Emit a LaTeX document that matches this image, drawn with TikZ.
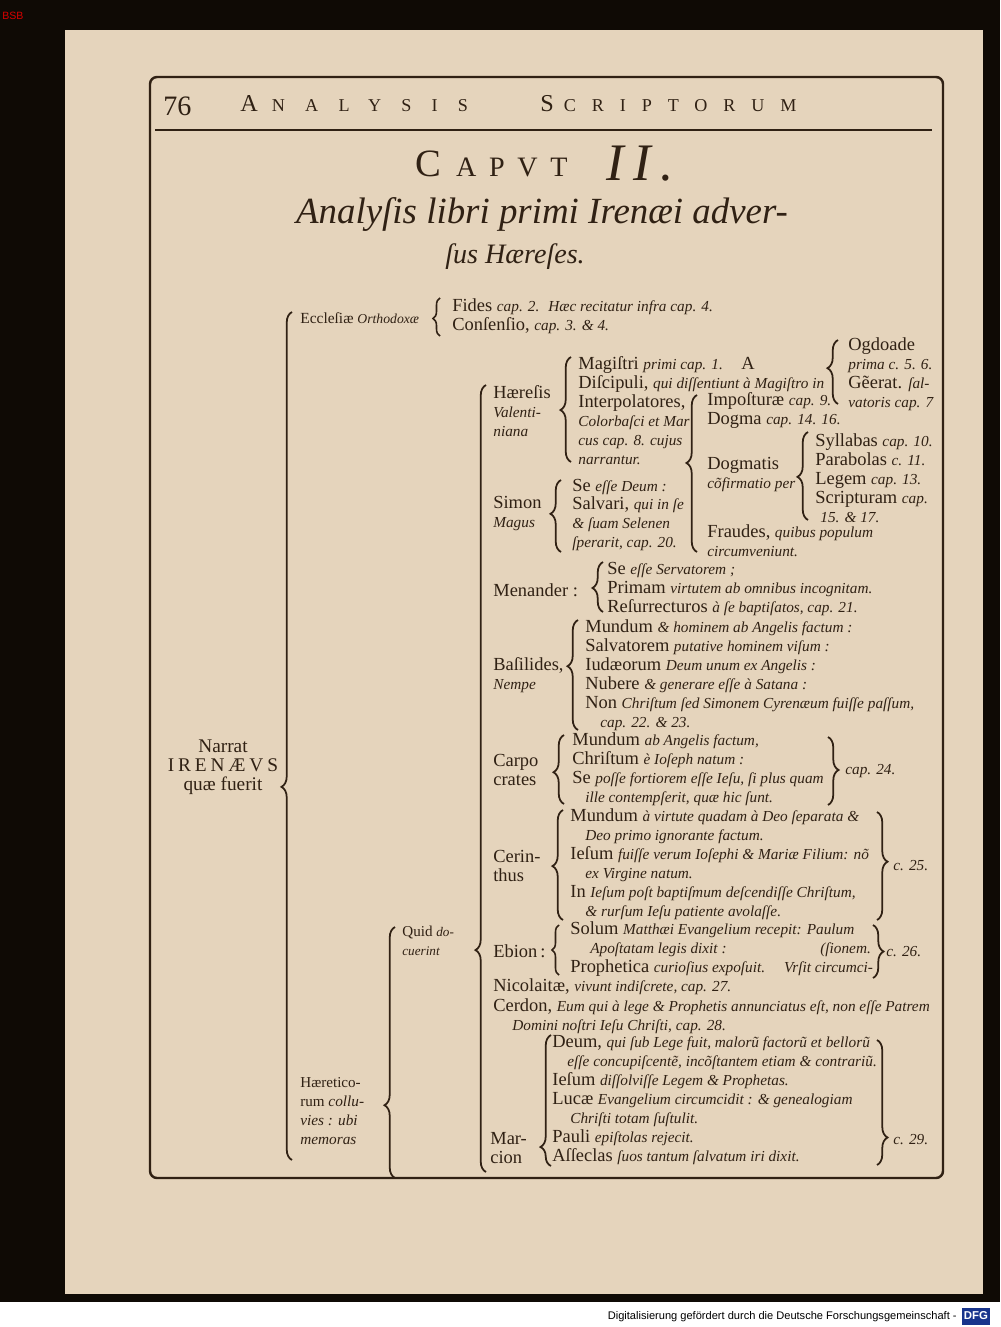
\documentclass[tikz,border=0pt]{standalone}
\usepackage{fontspec}
\setmainfont{Liberation Serif}
\newfontfamily\footfont{Liberation Sans}
\usepackage{tikz}
\usetikzlibrary{decorations.pathreplacing}
\definecolor{ink}{RGB}{48,33,20}
\definecolor{paper}{RGB}{229,212,188}
\definecolor{dfgblue}{RGB}{24,52,140}
\newcommand{\ital}[1]{{\itshape\fontsize{8.7}{10.8}\selectfont #1}}

\begin{document}
\begin{tikzpicture}[x=0.02cm,y=-0.02cm,
    txt/.style={anchor=west, inner sep=0pt, align=left, text=ink, font=\fontsize{10.5}{10.8}\selectfont},
    sml/.style={txt, font=\fontsize{8.6}{10.8}\selectfont},
    brc/.style={draw=ink, line width=1pt, decorate, decoration={brace, amplitude=6pt, aspect=#1}},
    sbrc/.style={draw=ink, line width=0.9pt, decorate, decoration={brace, amplitude=4pt, aspect=#1}}]
\useasboundingbox (0,0) rectangle (1000,1327);
% scan background
\fill[black!92!brown] (0,0) rectangle (1000,1302);
\fill[white] (0,1302) rectangle (1000,1327);
\fill[paper] (65,30) rectangle (983,1294);
\draw (2,16) node[anchor=west, inner sep=0pt, text=red!85!black, font=\footfont\fontsize{6}{7}\selectfont] (bsb) {BSB};
\draw (957,1317) node[anchor=east, inner sep=0pt, font=\footfont\fontsize{6.3}{7}\selectfont] (foot) {Digitalisierung gefördert durch die Deutsche Forschungsgemeinschaft -};
\draw (976,1316) node[fill=dfgblue, text=white, inner sep=0pt, minimum width=0.56cm, minimum height=0.34cm, font=\footfont\bfseries\fontsize{6.5}{7}\selectfont] (dfg) {DFG};

% page frame and running head
\draw[ink, line width=1.4pt, rounded corners=4pt] (150,77) rectangle (943,1178);
\draw[ink, line width=1.1pt] (155,130) -- (932,130);
\draw (163,106) node[txt, font=\fontsize{16}{16}\selectfont] (pnum) {76};
\draw (240,104) node[txt, font=\fontsize{13.8}{14}\selectfont] (runa) {A\hspace{0.28cm}{\fontsize{10.3}{14}\selectfont\addfontfeature{LetterSpace=112}NALYSIS}};
\draw (540,104) node[txt, font=\fontsize{13.8}{14}\selectfont] (runs) {S\hspace{0.2cm}{\fontsize{10.3}{14}\selectfont\addfontfeature{LetterSpace=88}CRIPTORUM}};

% title
\draw (415,164) node[txt, font=\fontsize{22}{22}\selectfont] (caput) {C\hspace{0.3cm}{\fontsize{16}{22}\selectfont\addfontfeature{LetterSpace=45}APVT}};
\draw (606,164) node[txt, font=\itshape\fontsize{30}{30}\selectfont] (caputn) {{\addfontfeature{LetterSpace=18}II.}};
\draw (542,214) node[text=ink, inner sep=0pt, font=\itshape\fontsize{21}{21}\selectfont] (tita) {Analyſis libri primi Irenæi adver-};
\draw (515,257) node[text=ink, inner sep=0pt, font=\itshape\fontsize{16}{16}\selectfont] (titb) {ſus Hæreſes.};

% first level
\draw (223,767) node[txt, anchor=center, align=center, font=\fontsize{11}{10.8}\selectfont] (narrat) {Narrat\\{\addfontfeature{LetterSpace=20}IRENÆVS}\\quæ fuerit};
\draw (300,318) node[txt, font=\fontsize{8.8}{10.8}\selectfont] (eccl) {Eccleſiæ \ital{\fontsize{7.8}{10.8}\selectfont Orthodoxæ}};
\draw (452,316) node[txt] (eccks) {Fides \ital{cap. 2. \ Hæc recitatur infra cap. 4.}\\Conſenſio, \ital{cap. 3. \& 4.}};
\draw (300,1111) node[sml] (haeret) {Hæretico-\\rum \ital{collu-}\\\ital{vies : ubi}\\\ital{memoras}};
\draw (402,941) node[sml] (quid) {Quid \ital{\fontsize{7.5}{10.8}\selectfont do-}\\\ital{\fontsize{7.5}{10.8}\selectfont cuerint}};

% Valentiniani
\draw (493,411) node[txt] (valent) {Hæreſis\\\ital{Valenti-}\\\ital{niana}};
\draw (578,411) node[txt] (valks) {Magiſtri \ital{primi cap. 1.}\quad A\\Diſcipuli, \ital{qui diſſentiunt à Magiſtro in}\\Interpolatores,\\\ital{Colorbaſci et Mar}\\\ital{cus cap. 8. cujus}\\\ital{narrantur.}};
\draw (848,374) node[txt] (ogdo) {Ogdoade\\\ital{prima c. 5. 6.}\\Gẽerat. \ital{ſal-}\\\ital{vatoris cap. 7}};
\draw (707,401) node[txt] (impost) {Impoſturæ \ital{cap. 9.}};
\draw (707,420) node[txt] (dogma) {Dogma \ital{cap. 14. 16.}};
\draw (707,475) node[txt] (dogmat) {Dogmatis\\\ital{cõfirmatio per}};
\draw (707,541) node[txt] (fraud) {Fraudes, \ital{quibus populum}\\\ital{circumveniunt.}};
\draw (815,478) node[txt] (dogks) {Syllabas \ital{cap. 10.}\\Parabolas \ital{c. 11.}\\Legem \ital{cap. 13.}\\Scripturam \ital{cap.}\\\hspace*{0.1cm}\ital{15. \& 17.}};

% Simon, Menander, Basilides
\draw (493,514) node[txt] (simon) {Simon\\\ital{Magus}};
\draw (572,515) node[txt] (simks) {Se \ital{eſſe Deum :}\\Salvari, \ital{qui in ſe}\\\ital{\& ſuam Selenen}\\\ital{ſperarit, cap. 20.}};
\draw (493,590) node[txt] (menan) {Menander :};
\draw (607,589) node[txt] (menks) {Se \ital{eſſe Servatorem ;}\\Primam \ital{virtutem ab omnibus incognitam.}\\Reſurrecturos \ital{à ſe baptiſatos, cap. 21.}};
\draw (493,675) node[txt] (basil) {Baſilides,\\\ital{Nempe}};
\draw (585,675) node[txt] (basks) {Mundum \ital{\& hominem ab Angelis factum :}\\Salvatorem \ital{putative hominem viſum :}\\Iudæorum \ital{Deum unum ex Angelis :}\\Nubere \ital{\& generare eſſe à Satana :}\\Non \ital{Chriſtum ſed Simonem Cyrenæum fuiſſe paſſum,}\\\hspace*{0.3cm}\ital{cap. 22. \& 23.}};

% Carpocrates, Cerinthus, Ebion
\draw (493,770) node[txt] (carpo) {Carpo\\crates};
\draw (572,769) node[txt] (carks) {Mundum \ital{ab Angelis factum,}\\Chriſtum \ital{è Ioſeph natum :}\\Se \ital{poſſe fortiorem eſſe Ieſu, ſi plus quam}\\\hspace*{0.26cm}\ital{ille contempſerit, quæ hic ſunt.}};
\draw (845,771) node[txt] (cap24) {\ital{cap. 24.}};
\draw (493,866) node[txt] (cerin) {Cerin-\\thus};
\draw (570,864) node[txt] (cerks) {Mundum \ital{à virtute quadam à Deo ſeparata \&}\\\hspace*{0.3cm}\ital{Deo primo ignorante factum.}\\Ieſum \ital{fuiſſe verum Ioſephi \& Mariæ Filium: nõ}\\\hspace*{0.3cm}\ital{ex Virgine natum.}\\In \ital{Ieſum poſt baptiſmum deſcendiſſe Chriſtum,}\\\hspace*{0.3cm}\ital{\& rurſum Ieſu patiente avolaſſe.}};
\draw (893,866) node[txt] (c25) {\ital{c. 25.}};
\draw (493,951) node[txt] (ebion) {Ebion\,:};
\draw (570,949) node[txt] (ebks) {Solum \ital{Matthæi Evangelium recepit: Paulum}\\\hspace*{0.4cm}\ital{Apoſtatam legis dixit :}\\Prophetica \ital{curioſius expoſuit.\quad\ Vrſit circumci-}};
\draw (820,950) node[txt] (sionem) {\ital{(ſionem.}};
\draw (886,952) node[txt] (c26) {\ital{c. 26.}};

% Nicolaitae, Cerdon, Marcion
\draw (493,987) node[txt] (nicol) {Nicolaitæ, \ital{vivunt indiſcrete, cap. 27.}};
\draw (493,1016) node[txt] (cerdon) {Cerdon, \ital{Eum qui à lege \& Prophetis annunciatus eſt, non eſſe Patrem}\\\hspace*{0.38cm}\ital{Domini noſtri Ieſu Chriſti, cap. 28.}};
\draw (490,1148) node[txt] (marc) {Mar-\\cion};
\draw (552,1100) node[txt] (marks) {Deum, \ital{qui ſub Lege fuit, malorũ factorũ et bellorũ}\\\hspace*{0.3cm}\ital{eſſe concupiſcentẽ, incõſtantem etiam \& contrariũ.}\\Ieſum \ital{diſſolviſſe Legem \& Prophetas.}\\Lucæ \ital{Evangelium circumcidit : \& genealogiam}\\\hspace*{0.36cm}\ital{Chriſti totam ſuſtulit.}\\Pauli \ital{epiſtolas rejecit.}\\Aſſeclas \ital{ſuos tantum ſalvatum iri dixit.}};
\draw (893,1140) node[txt] (c29) {\ital{c. 29.}};

% brace ends
\coordinate (maint) at (292,312);  \coordinate (mainb) at (292,1160);
\coordinate (ecclt) at (440,298);  \coordinate (ecclb) at (440,336);
\coordinate (haert) at (395,927);  \coordinate (haerb) at (395,1178);
\coordinate (quidt) at (486,385);  \coordinate (quidb) at (486,1172);
\coordinate (valt) at (571,357);   \coordinate (valb) at (571,462);
\coordinate (ogdt) at (838,340);   \coordinate (ogdb) at (838,404);
\coordinate (intt) at (697,395);   \coordinate (intb) at (697,552);
\coordinate (dogt) at (808,432);   \coordinate (dogb) at (808,520);
\coordinate (simt) at (561,480);   \coordinate (simb) at (561,552);
\coordinate (ment) at (603,562);   \coordinate (menb) at (603,612);
\coordinate (bast) at (578,620);   \coordinate (basb) at (578,730);
\coordinate (cart) at (564,735);   \coordinate (carb) at (564,804);
\coordinate (cert) at (563,810);   \coordinate (cerb) at (563,920);
\coordinate (ebit) at (559,925);   \coordinate (ebib) at (559,975);
\coordinate (mart) at (551,1035);  \coordinate (marb) at (551,1166);
\coordinate (carrt) at (828,737);  \coordinate (carrb) at (828,805);
\coordinate (cerrt) at (877,812);  \coordinate (cerrb) at (877,920);
\coordinate (ebirt) at (873,925);  \coordinate (ebirb) at (873,978);
\coordinate (marrt) at (877,1040); \coordinate (marrb) at (877,1165);

\draw[brc=0.44] (mainb) -- (maint);
\draw[sbrc=0.46] (ecclb) -- (ecclt);
\draw[brc=0.29] (haerb) -- (haert);
\draw[brc=0.282] (quidb) -- (quidt);
\draw[brc=0.495] (valb) -- (valt);
\draw[brc=0.56] (ogdb) -- (ogdt);
\draw[brc=0.567] (intb) -- (intt);
\draw[brc=0.49] (dogb) -- (dogt);
\draw[brc=0.53] (simb) -- (simt);
\draw[brc=0.48] (menb) -- (ment);
\draw[brc=0.58] (basb) -- (bast);
\draw[brc=0.46] (carb) -- (cart);
\draw[brc=0.49] (cerb) -- (cert);
\draw[sbrc=0.5] (ebib) -- (ebit);
\draw[brc=0.145] (marb) -- (mart);
\draw[brc=0.485] (carrt) -- (carrb);
\draw[brc=0.46] (cerrt) -- (cerrb);
\draw[brc=0.5] (ebirt) -- (ebirb);
\draw[brc=0.78] (marrt) -- (marrb);
\end{tikzpicture}
\end{document}
